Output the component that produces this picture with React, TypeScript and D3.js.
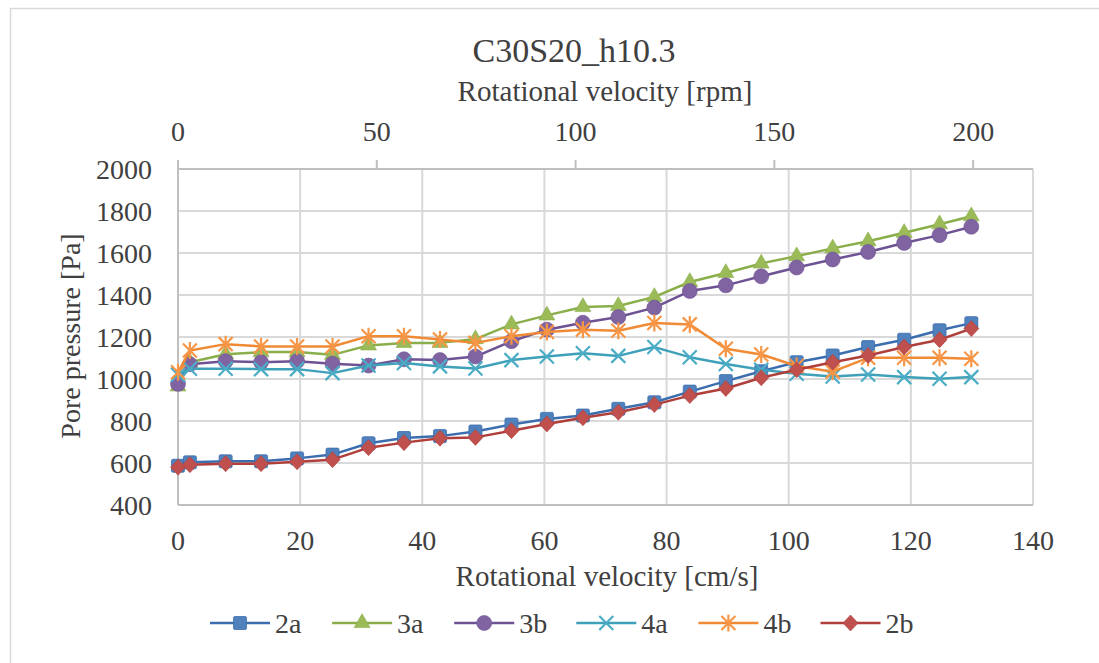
import React from "react";
import * as d3 from "d3";

const velocityCms = [0, 1.95, 7.8, 13.6, 19.5, 25.3, 31.2, 37.0, 42.9, 48.7, 54.6, 60.4, 66.3, 72.1, 78.0, 83.8, 89.7, 95.5, 101.3, 107.2, 113.0, 118.9, 124.7, 129.9];

const s2a = [587, 603, 608, 608, 622, 640, 694, 719, 728, 750, 783, 810, 826, 858, 889, 940, 990, 1037, 1080, 1112, 1152, 1187, 1232, 1266];
const s3a = [965, 1080, 1118, 1128, 1128, 1115, 1160, 1172, 1172, 1190, 1260, 1303, 1343, 1348, 1391, 1462, 1505, 1550, 1585, 1622, 1656, 1696, 1737, 1775];
const s3b = [977, 1070, 1085, 1080, 1085, 1073, 1064, 1094, 1090, 1107, 1180, 1235, 1268, 1295, 1340, 1419, 1446, 1489, 1531, 1569, 1605, 1648, 1685, 1725];
const s4a = [1020, 1049, 1049, 1047, 1047, 1028, 1064, 1076, 1060, 1050, 1090, 1107, 1123, 1110, 1152, 1104, 1071, 1044, 1025, 1012, 1021, 1009, 1001, 1009];
const s4b = [1032, 1136, 1166, 1155, 1155, 1155, 1204, 1204, 1188, 1172, 1204, 1224, 1235, 1230, 1267, 1260, 1144, 1117, 1062, 1035, 1101, 1101, 1101, 1096];
const s2b = [580, 592, 597, 597, 606, 616, 673, 697, 718, 722, 754, 786, 815, 842, 878, 921, 955, 1006, 1044, 1080, 1112, 1152, 1187, 1240];

const seriesNames = ["2a", "3a", "3b", "4a", "4b", "2b"];
const seriesValues = [s2a, s3a, s3b, s4a, s4b, s2b];
const seriesColors = ["#4F81BD", "#9BBB59", "#8064A2", "#4BACC6", "#F79646", "#C0504D"];
const lineColors = ["#3C6DAF", "#8AAE4A", "#6E5394", "#3FA0BA", "#F08A35", "#B03F3C"];
const markerKinds = ["square", "triangle", "circle", "x", "asterisk", "diamond"];

const bottomTicks = [0, 20, 40, 60, 80, 100, 120, 140];
const topTicks = [0, 50, 100, 150, 200];
const yTicks = [400, 600, 800, 1000, 1200, 1400, 1600, 1800, 2000];

const RPM_TO_CMS = 0.651;

const FONT = "'Liberation Serif', 'Times New Roman', serif";
const TEXT = "#404040";

function Marker({ kind, x, y, fill, stroke }: { kind: string; x: number; y: number; fill: string; stroke: string }) {
  const s = 7;
  if (kind === "square") return <rect x={x - 6.5} y={y - 6.5} width={13} height={13} rx={1.5} fill={fill} stroke={stroke} strokeWidth={0.8} />;
  if (kind === "triangle") {
    const p = d3.symbol().type(d3.symbolTriangle).size(110)();
    return <path d={p as string} transform={`translate(${x},${y})`} fill={fill} stroke={stroke} strokeWidth={0.6} />;
  }
  if (kind === "circle") return <circle cx={x} cy={y} r={7.5} fill={fill} stroke={stroke} strokeWidth={0.6} />;
  if (kind === "diamond") {
    const p = `M${x},${y - 8}L${x + 7.5},${y}L${x},${y + 8}L${x - 7.5},${y}Z`;
    return <path d={p} fill={fill} stroke={stroke} strokeWidth={0.6} />;
  }
  if (kind === "x") {
    return <path d={`M${x - s},${y - s}L${x + s},${y + s}M${x - s},${y + s}L${x + s},${y - s}`} stroke={fill} strokeWidth={2.2} fill="none" />;
  }
  // asterisk
  return (
    <path
      d={`M${x - s},${y - s}L${x + s},${y + s}M${x - s},${y + s}L${x + s},${y - s}M${x},${y - 8.5}L${x},${y + 8.5}`}
      stroke={fill}
      strokeWidth={2.2}
      fill="none"
    />
  );
}

export default function App() {
  const W = 1099, H = 663;
  const left = 178, right = 1033, top = 169, bottom = 505;
  const x = d3.scaleLinear().domain([0, 140]).range([left, right]);
  const xTop = d3.scaleLinear().domain([0, 140 / RPM_TO_CMS]).range([left, right]);
  const y = d3.scaleLinear().domain([400, 2000]).range([bottom, top]);

  const line = (vals: number[]) =>
    d3.line<number>().x((_, i) => x(velocityCms[i])).y((d) => y(d))(vals) as string;

  const legendX0 = 210;
  const legendStep = 122.1;
  const legendY = 623;

  return (
    <svg width={W} height={H} style={{ position: "absolute", left: 0, top: 0, background: "#fff" }} fontFamily={FONT}>
      <rect x={0} y={0} width={W} height={H} fill="#fff" />
      <rect x={10.5} y={8.5} width={1200} height={700} fill="none" stroke="#d9d9d9" strokeWidth={1.5} />

      {/* gridlines */}
      {yTicks.map((t) => (
        <line key={"gy" + t} x1={left} x2={right} y1={y(t)} y2={y(t)} stroke="#d9d9d9" strokeWidth={2} />
      ))}
      {bottomTicks.filter((t) => t > 0).map((t) => (
        <line key={"gx" + t} x1={x(t)} x2={x(t)} y1={top} y2={bottom} stroke="#d9d9d9" strokeWidth={2} />
      ))}
      {/* axes */}
      <line x1={left} x2={right} y1={bottom} y2={bottom} stroke="#bfbfbf" strokeWidth={2} />
      <line x1={left} x2={left} y1={top} y2={bottom} stroke="#bfbfbf" strokeWidth={2} />
      <line x1={left} x2={right} y1={top} y2={top} stroke="#bfbfbf" strokeWidth={2} />
      {topTicks.map((t) => (
        <line key={"tt" + t} x1={xTop(t)} x2={xTop(t)} y1={top} y2={top - 9} stroke="#bfbfbf" strokeWidth={2} />
      ))}

      {/* tick labels */}
      {yTicks.map((t) => (
        <text key={"yl" + t} x={152} y={y(t) + 9.5} textAnchor="end" fontSize={28} fill={TEXT}>{t}</text>
      ))}
      {bottomTicks.map((t) => (
        <text key={"xl" + t} x={x(t)} y={550} textAnchor="middle" fontSize={28} fill={TEXT}>{t}</text>
      ))}
      {topTicks.map((t) => (
        <text key={"tl" + t} x={xTop(t)} y={141} textAnchor="middle" fontSize={28} fill={TEXT}>{t}</text>
      ))}

      {/* titles */}
      <text x={574} y={62} textAnchor="middle" fontSize={34} fill={TEXT}>C30S20_h10.3</text>
      <text x={605} y={101} textAnchor="middle" fontSize={29} fill={TEXT}>Rotational velocity [rpm]</text>
      <text x={607} y={586} textAnchor="middle" fontSize={29} fill={TEXT}>Rotational velocity [cm/s]</text>
      <text transform={`translate(80,336) rotate(-90)`} textAnchor="middle" fontSize={28} fill={TEXT}>Pore pressure [Pa]</text>

      {/* series */}
      {seriesValues.map((vals, si) => (
        <g key={"s" + si}>
          <path d={line(vals)} fill="none" stroke={lineColors[si]} strokeWidth={2.5} strokeLinejoin="round" />
          {vals.map((v, i) => (
            <Marker key={i} kind={markerKinds[si]} x={x(velocityCms[i])} y={y(v)} fill={seriesColors[si]} stroke={lineColors[si]} />
          ))}
        </g>
      ))}

      {/* legend */}
      {seriesNames.map((n, i) => {
        const lx = legendX0 + i * legendStep;
        return (
          <g key={"lg" + n}>
            <line x1={lx} x2={lx + 60} y1={legendY} y2={legendY} stroke={lineColors[i]} strokeWidth={2.5} />
            <Marker kind={markerKinds[i]} x={lx + 30} y={legendY} fill={seriesColors[i]} stroke={lineColors[i]} />
            <text x={lx + 65} y={legendY + 10} fontSize={28} fill={TEXT}>{n}</text>
          </g>
        );
      })}
    </svg>
  );
}
